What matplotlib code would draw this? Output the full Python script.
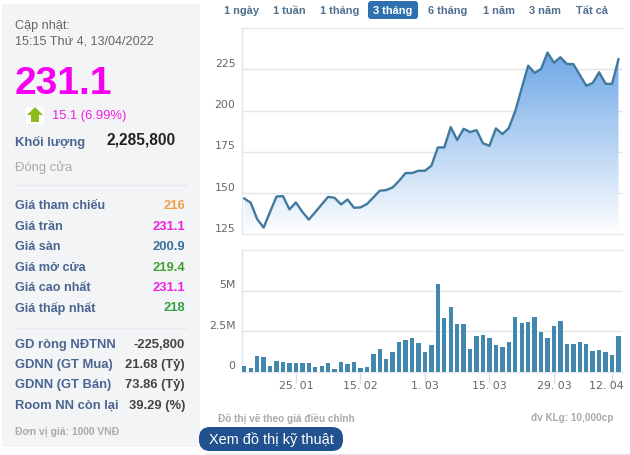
import numpy as np
import matplotlib
matplotlib.use('Agg')
import matplotlib.pyplot as plt
from matplotlib.colors import LinearSegmentedColormap
from matplotlib.patches import FancyBboxPatch, Polygon, Rectangle
from matplotlib.transforms import ScaledTranslation

plt.rcParams['font.family'] = ['Liberation Sans', 'DejaVu Sans']

# price per session (last 59 sessions)
prices = [146.8, 144.2, 134.3, 129.2, 138.7, 148.0, 148.2, 140.2, 144.4, 138.7,
          134.0, 138.5, 143.2, 147.8, 147.2, 143.2, 146.2, 141.2, 141.4, 143.4,
          147.4, 151.5, 151.9, 153.5, 157.5, 162.2, 162.2, 163.6, 163.6, 166.6,
          177.7, 177.7, 190.0, 182.2, 189.0, 187.0, 188.2, 180.2, 178.7, 189.2,
          185.8, 189.4, 199.7, 213.5, 227.2, 222.8, 225.2, 235.1, 229.0, 232.3,
          228.2, 228.2, 221.6, 215.1, 216.7, 223.2, 216.3, 216.1, 231.1]
# volume in millions
volumes = [0.37, 0.25, 0.97, 0.93, 0.37, 0.68, 0.58, 0.56, 0.51, 0.56,
           0.56, 0.29, 0.37, 0.51, 0.19, 0.62, 0.45, 0.62, 0.21, 0.27,
           1.09, 1.40, 0.80, 1.23, 1.81, 1.98, 2.06, 1.75, 1.21, 1.62,
           5.43, 3.33, 3.97, 2.94, 2.94, 1.40, 2.22, 2.28, 2.10, 1.62,
           1.50, 1.81, 3.37, 3.00, 3.06, 3.37, 2.47, 2.10, 2.84, 3.13,
           1.69, 1.69, 1.85, 1.69, 1.28, 1.32, 1.21, 1.05, 2.22]
sessions = np.arange(len(prices))

tick_sessions = [8, 18, 28, 38, 48, 57]
tick_labels = ['25. 01', '15. 02', '1. 03', '15. 03', '29. 03', '12. 04']
price_ticks = [125, 150, 175, 200, 225]
volume_ticks = [0, 2.5, 5]
volume_tick_labels = ['0', '2.5M', '5M']

ranges = ['1 ngày', '1 tuần', '1 tháng', '3 tháng', '6 tháng', '1 năm', '3 năm', 'Tất cả']
range_x = [241, 289.5, 340, 393, 448, 498.5, 545, 591.5]

quote_rows = [('Giá tham chiếu', '216', '#f0a040'),
              ('Giá trần', '231.1', '#f020e0'),
              ('Giá sàn', '200.9', '#3a7098'),
              ('Giá mở cửa', '219.4', '#40a030'),
              ('Giá cao nhất', '231.1', '#f020e0'),
              ('Giá thấp nhất', '218', '#30a040')]
quote_y = [205, 226, 246, 267, 287, 307]
foreign_rows = [('GD ròng NĐTNN', '-225,800'),
                ('GDNN (GT Mua)', '21.68 (Tỷ)'),
                ('GDNN (GT Bán)', '73.86 (Tỷ)'),
                ('Room NN còn lại', '39.29 (%)')]
foreign_y = [344, 364, 384, 405]

W, H = 630, 455
fig = plt.figure(figsize=(W / 100, H / 100), dpi=100, facecolor='white')

# page layer in pixel coordinates, y going down
page = fig.add_axes([0, 0, 1, 1], zorder=0)
page.set_xlim(0, W)
page.set_ylim(H, 0)
page.axis('off')


def px(size):
    return size * 72 / 100


def label(x, y, s, size=12.6, color='#4a6591', ha='left', weight='normal', **kw):
    page.text(x, y + 1, s, fontsize=px(size), color=color, ha=ha, va='center', weight=weight, **kw)


def nudge(text, dx=0, dy=0):
    # move a tick label by some pixels, y going up
    text.set_transform(text.get_transform() + ScaledTranslation(dx / 100, dy / 100, fig.dpi_scale_trans))


def chart_axes(left, top, right, bottom):
    ax = fig.add_axes([left / W, 1 - bottom / H, (right - left) / W, (bottom - top) / H], zorder=1)
    ax.patch.set_visible(False)
    for name in ax.spines:
        ax.spines[name].set_color('#e6e9ee')
        ax.spines[name].set_linewidth(1)
    ax.spines['right'].set_visible(False)
    ax.spines['left'].set_color('#dbe6f2')
    ax.set_xlim(-0.4, 58.7)
    ax.grid(axis='y', color='#e2e5e9', linewidth=1)
    ax.set_axisbelow(True)
    return ax


# left panel
page.add_patch(Rectangle((2, 4), 198, 443, facecolor='#f3f4f6', edgecolor='none'))
label(15, 25, 'Cập nhật:', color='#666666')
label(15, 40, '15:15 Thứ 4, 13/04/2022', color='#666666')
label(15, 83, '231.1', size=39, color='#f500f0', weight='bold')
page.add_patch(Rectangle((26, 107), 18, 17, facecolor='white', edgecolor='none'))
page.add_patch(Polygon([(35, 107), (43, 115), (39, 115), (39, 122), (31, 122), (31, 115), (27, 115)],
                       facecolor='#8dbb1e', edgecolor='none'))
label(52, 115, '15.1 (6.99%)', size=13, color='#f020e0')
label(15, 141, 'Khối lượng', size=13, weight='bold')
label(176, 139, '2,285,800', size=15.5, color='#222222', ha='right', weight='bold')
label(15, 167, 'Đóng cửa', size=13, color='#aaaaaa')
page.plot([15, 186], [185, 185], color='#e8e9ec', lw=1)
for (name, value, col), y in zip(quote_rows, quote_y):
    label(15, y, name, weight='bold')
    label(185, y, value, size=13, color=col, ha='right', weight='bold')
page.plot([15, 186], [328, 328], color='#e8e9ec', lw=1)
for (name, value), y in zip(foreign_rows, foreign_y):
    label(15, y, name, size=13, weight='bold')
    label(185, y, value, size=13, color='#444444', ha='right', weight='bold')
label(15, 431, 'Đơn vị giá: 1000 VNĐ', size=10.3, color='#aaaaaa', weight='bold')

# range selector
page.add_patch(FancyBboxPatch((370, 3), 46, 14, boxstyle='round,pad=2,rounding_size=3',
                              facecolor='#2f70b1', edgecolor='none'))
for name, x in zip(ranges, range_x):
    selected = name == '3 tháng'
    label(x, 9.5, name, size=11, ha='center', weight='bold',
          color='white' if selected else '#4f6f8f')

# price chart
ax1 = chart_axes(241.7, 28, 623, 234.5)
ax1.set_ylim(125, 250)
ax1.set_xticks([])
ax1.set_yticks(price_ticks)
ax1.set_yticklabels(price_ticks, fontsize=px(11), color='#666666', family='DejaVu Sans', va='center')
ax1.tick_params(axis='y', length=0, pad=4.5)
for t in ax1.get_yticklabels():
    nudge(t, dy=5.5)
area = ax1.fill_between(sessions, prices, 125, facecolor='none', edgecolor='none')
fade = LinearSegmentedColormap.from_list('fade', ['#ffffff', '#66a3e6'])
grad = ax1.imshow(np.linspace(1, 0, 256).reshape(-1, 1), cmap=fade, aspect='auto', alpha=0.95,
                  extent=[sessions[0], sessions[-1], 125, max(prices)], zorder=1.5)
grad.set_clip_path(area.get_paths()[0], ax1.transData)
ax1.set_xlim(-0.4, 58.7)
ax1.set_ylim(125, 250)
ax1.plot(sessions, prices, color='#41799f', lw=1.7, zorder=3)

# volume chart
ax2 = chart_axes(241.7, 250, 623, 371.7)
ax2.set_ylim(0, 7.5)
ax2.bar(sessions, volumes, width=0.68, color='#4187ae', zorder=3)
ax2.set_yticks(volume_ticks)
ax2.set_yticklabels(volume_tick_labels, fontsize=px(11), color='#666666', family='DejaVu Sans', va='center')
ax2.tick_params(axis='y', length=0, pad=4.5)
for t in ax2.get_yticklabels():
    nudge(t, dy=5.5)
ax2.set_xticks(tick_sessions)
ax2.set_xticklabels(tick_labels, fontsize=px(11), color='#666666', family='DejaVu Sans')
ax2.tick_params(axis='x', length=8, width=1, color='#cfdeee', pad=-1)
nudge(ax2.get_xticklabels()[-1], dx=-6)

# footer
label(218, 417, 'Đồ thị vẽ theo giá điều chỉnh', size=10, color='#aaaaaa', weight='bold')
label(613, 417, 'đv KLg: 10,000cp', size=10, color='#aaaaaa', ha='right', weight='bold')
page.plot([205, 630], [454, 454], color='#e6e6e6', lw=1)
page.add_patch(FancyBboxPatch((201, 429), 140, 20, boxstyle='round,pad=2,rounding_size=11',
                              facecolor='#22518f', edgecolor='none'))
label(271, 438.5, 'Xem đồ thị kỹ thuật', size=14.5, color='white', ha='center')

fig.savefig('out.png', dpi=100, facecolor='white')
